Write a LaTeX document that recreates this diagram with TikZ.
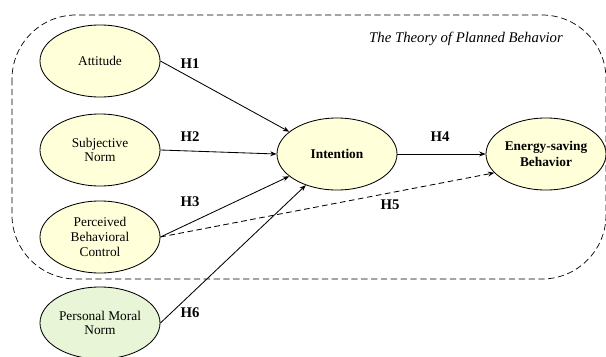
\documentclass[tikz,border=0pt]{standalone}
\usepackage{fontspec}
\setmainfont{Liberation Serif}
\usetikzlibrary{positioning, calc, arrows.meta, shapes.geometric}

\definecolor{tpbfill}{RGB}{255,255,218}
\definecolor{moralfill}{RGB}{232,245,214}

\begin{document}
\begin{tikzpicture}[x=0.025cm, y=-0.025cm, >={Stealth[length=4.5pt, width=3.5pt]},
    construct/.style={ellipse, draw, line width=0.6pt, fill=tpbfill, minimum width=3cm, minimum height=1.8cm, inner sep=0pt, align=center, font=\fontsize{9.5}{10.5}\selectfont},
    hyp/.style={font=\bfseries\fontsize{10.5}{12}\selectfont},
    path/.style={->, line width=0.6pt}]
    \useasboundingbox (0,0) rectangle (606,356);

    % Frame of the theory
    \draw[dash pattern=on 4.5pt off 2.5pt, line width=0.5pt, rounded corners=1.6cm] (12,15) rectangle (606,279);
    \node[font=\itshape\fontsize{10.5}{12}\selectfont] (title) at (466,39) {The Theory of Planned Behavior};

    % Constructs
    \node[construct] (att) at (100,61) {Attitude};
    \node[construct] (sn) at (100,150) {Subjective\\Norm};
    \node[construct] (pbc) at (100,237) {Perceived\\Behavioral\\Control};
    \node[construct, fill=moralfill] (pmn) at (100,323) {Personal Moral\\Norm};
    \node[construct, font=\bfseries\fontsize{9.5}{10.5}\selectfont] (int) at (337,154) {Intention};
    \node[construct, font=\bfseries\fontsize{9.5}{11}\selectfont] (esb) at (546,154) {Energy-saving\\Behavior};

    % Hypothesised paths
    \draw[path] (att.east) -- (int.155);
    \draw[path] (sn.east) -- (int.west);
    \draw[path] (pbc.east) -- (int.205);
    \draw[path] (pmn.east) -- (int.225);
    \draw[path] (int.east) -- (esb.west);
    \draw[path, dash pattern=on 4pt off 2.5pt] (pbc.east) -- (esb.200);

    % Labels
    \node[hyp] (h1) at (190,64) {H1};
    \node[hyp] (h2) at (190,137) {H2};
    \node[hyp] (h3) at (190,202) {H3};
    \node[hyp] (h4) at (440,137) {H4};
    \node[hyp] (h5) at (390,205) {H5};
    \node[hyp] (h6) at (190,313) {H6};
\end{tikzpicture}
\end{document}
